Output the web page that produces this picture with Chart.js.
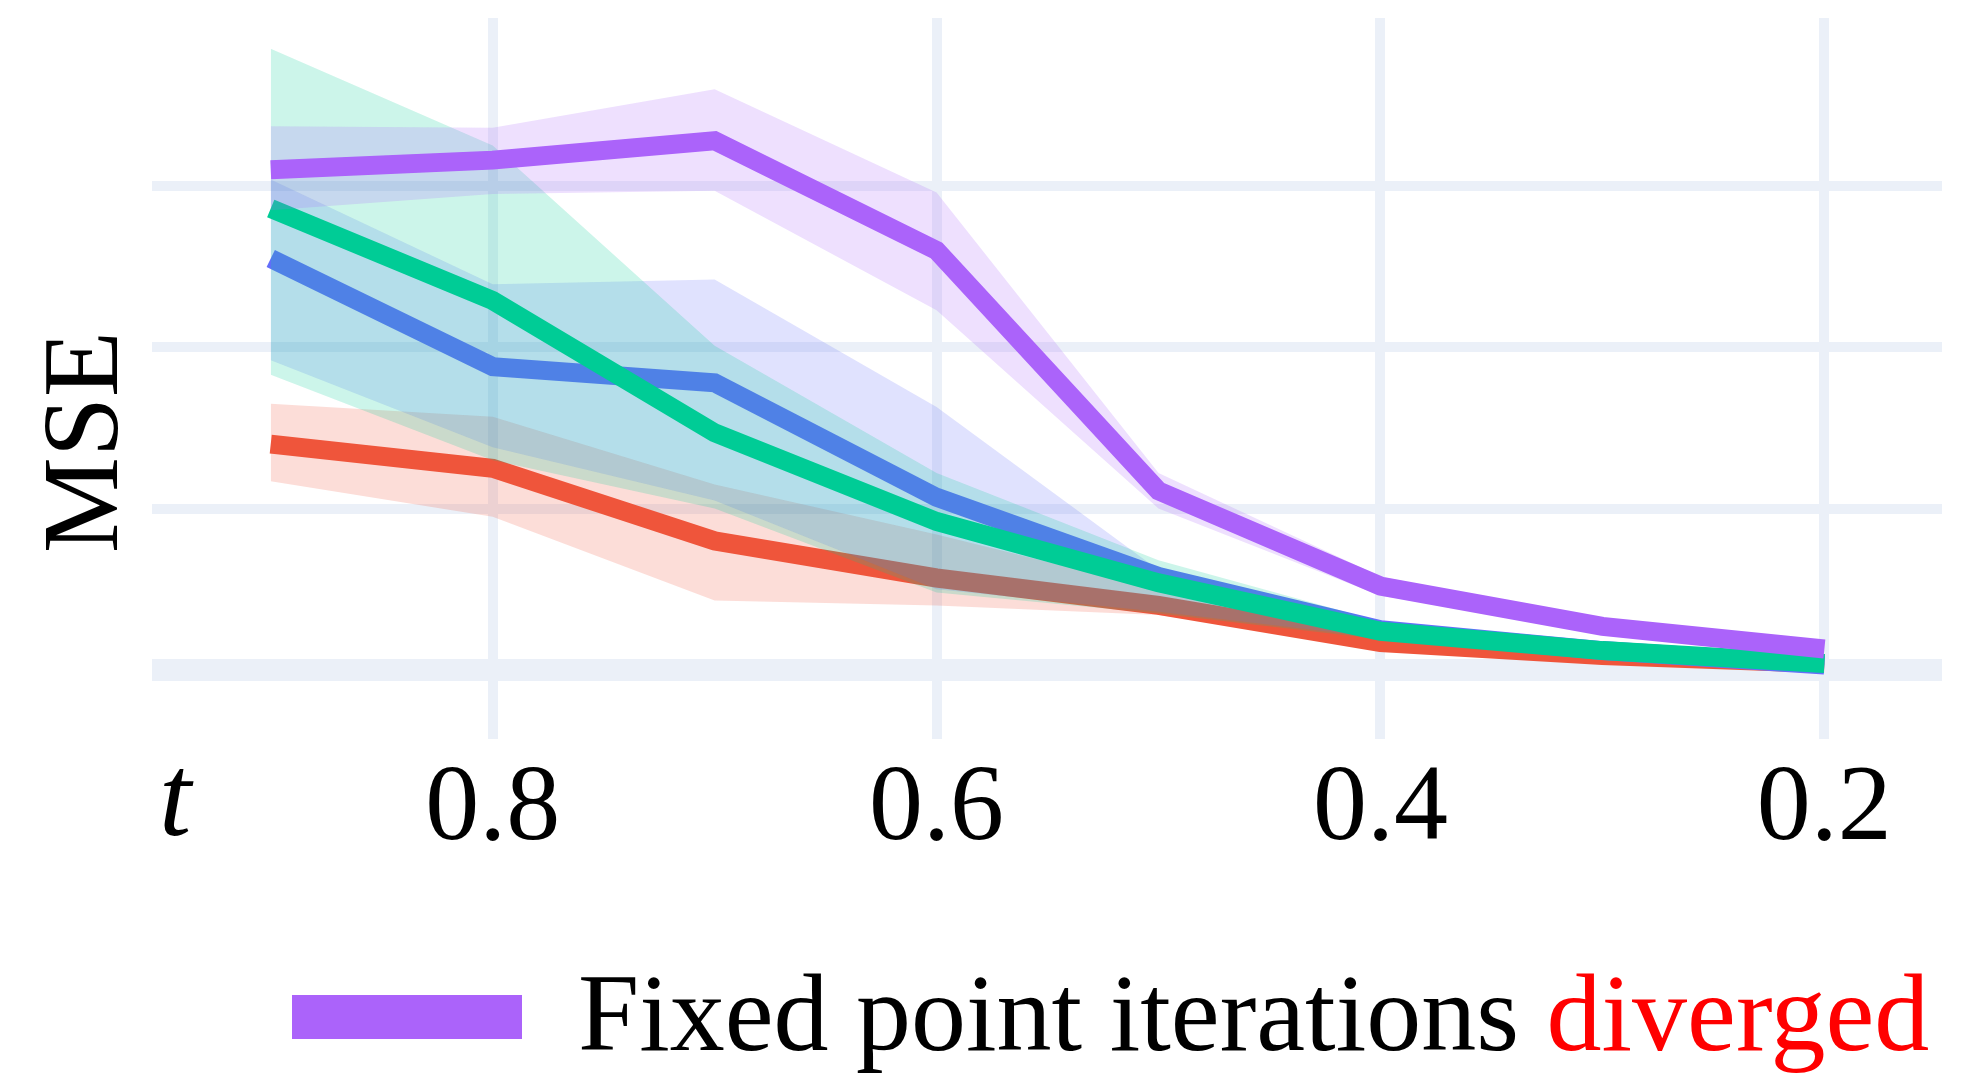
<!DOCTYPE html>
<html>
<head>
<meta charset="utf-8">
<title>MSE vs t</title>
<script src="https://cdn.jsdelivr.net/npm/chart.js@4.4.1/dist/chart.umd.min.js"></script>
<style>
  html, body { margin: 0; padding: 0; background: #fff; }
  #wrap { width: 1981px; height: 1073px; }
</style>
</head>
<body>
<div id="wrap"><canvas id="grafico" width="1981" height="1073"></canvas></div>
<script>
// eixo x (t, decrescente) e grades
const tValues = [0.9, 0.8, 0.7, 0.6, 0.5, 0.4, 0.3, 0.2];
const xTicks = [0.8, 0.6, 0.4, 0.2];
const yGrid = [0, 1, 2, 3];

// series (MSE, unidades da grade) - media e faixa
const purpleMean  = [3.10, 3.16, 3.28, 2.60, 1.11, 0.52, 0.27, 0.13];
const purpleUpper = [3.37, 3.36, 3.60, 2.96, 1.22, 0.58, 0.30, 0.14];
const purpleLower = [2.85, 2.95, 2.97, 2.23, 1.00, 0.46, 0.24, 0.11];

const blueMean  = [2.55, 1.88, 1.78, 1.07, 0.58, 0.25, 0.12, 0.03];
const blueUpper = [3.04, 2.39, 2.42, 1.63, 0.62, 0.27, 0.13, 0.04];
const blueLower = [1.92, 1.38, 1.05, 0.50, 0.36, 0.20, 0.10, 0.02];

const greenMean  = [2.86, 2.29, 1.47, 0.92, 0.54, 0.24, 0.12, 0.04];
const greenUpper = [3.85, 3.25, 2.01, 1.22, 0.68, 0.30, 0.14, 0.05];
const greenLower = [1.83, 1.30, 1.00, 0.48, 0.35, 0.19, 0.10, 0.03];

const redMean  = [1.40, 1.25, 0.80, 0.57, 0.40, 0.17, 0.09, 0.04];
const redUpper = [1.65, 1.57, 1.15, 0.84, 0.50, 0.20, 0.10, 0.05];
const redLower = [1.17, 0.95, 0.43, 0.40, 0.34, 0.15, 0.08, 0.03];

const legendLabel = "Fixed point iterations ";
const legendWord = "diverged";

const FONT = '"Liberation Serif", "Times New Roman", serif';
const GRID = "#EBF0F8";

function pts(arr) {
  return arr.map((v, i) => ({ x: tValues[i], y: v }));
}

// faixa (superior preenche ate a inferior) + linha media
function serie(label, cor, faixa, mean, upper, lower, ordem) {
  return [
    { label: label + " upper", data: pts(upper), borderColor: "transparent", borderWidth: 0,
      pointRadius: 0, backgroundColor: faixa, fill: "+1", order: ordem + 1 },
    { label: label + " lower", data: pts(lower), borderColor: "transparent", borderWidth: 0,
      pointRadius: 0, fill: false, order: ordem + 1 },
    { label: label, data: pts(mean), borderColor: cor, borderWidth: 19, pointRadius: 0,
      fill: false, tension: 0, order: ordem }
  ];
}

const datasets = [].concat(
  serie("diverged", "#AB63FA", "rgba(171,99,250,0.2)", purpleMean, purpleUpper, purpleLower, 0),
  serie("green", "#00CC96", "rgba(0,204,150,0.2)", greenMean, greenUpper, greenLower, 2),
  serie("blue", "#636EFA", "rgba(99,110,250,0.2)", blueMean, blueUpper, blueLower, 4),
  serie("red", "#EF553B", "rgba(239,85,59,0.2)", redMean, redUpper, redLower, 6)
);

// textos extras: titulo do eixo y, rotulo t e legenda
const textos = {
  id: "textos",
  afterDraw(chart) {
    const ctx = chart.ctx;
    const area = chart.chartArea;

    ctx.save();
    ctx.fillStyle = "#000";
    ctx.font = "108px " + FONT;
    ctx.textAlign = "center";
    ctx.textBaseline = "alphabetic";
    ctx.translate(area.left - 35, 442);
    ctx.rotate(-Math.PI / 2);
    ctx.fillText("MSE", 0, 0);
    ctx.restore();

    ctx.save();
    ctx.fillStyle = "#000";
    ctx.font = "italic 116px " + FONT;
    ctx.textAlign = "center";
    ctx.textBaseline = "alphabetic";
    ctx.fillText("t", area.left + 23, 835);
    ctx.restore();

    // legenda
    ctx.save();
    ctx.fillStyle = "#AB63FA";
    ctx.fillRect(292, 995, 230, 44);
    ctx.font = "110px " + FONT;
    ctx.textAlign = "left";
    ctx.textBaseline = "alphabetic";
    ctx.fillStyle = "#000";
    ctx.fillText(legendLabel, 578, 1050);
    const w = ctx.measureText(legendLabel).width;
    ctx.fillStyle = "#FF0000";
    ctx.fillText(legendWord, 578 + w, 1050);
    ctx.restore();
  }
};

new Chart(document.getElementById("grafico"), {
  type: "line",
  data: { datasets: datasets },
  plugins: [textos],
  options: {
    responsive: false,
    animation: false,
    devicePixelRatio: 1,
    layout: { padding: { top: 18, right: 39, left: 0, bottom: 0 } },
    plugins: {
      legend: { display: false },
      tooltip: { enabled: false },
      filler: { drawTime: "beforeDatasetDraw" }
    },
    scales: {
      x: {
        type: "linear",
        reverse: true,
        min: 0.147,
        max: 0.9535,
        afterBuildTicks: s => { s.ticks = xTicks.map(v => ({ value: v })); },
        afterFit: s => { s.height = 334; },
        border: { display: false },
        grid: { color: GRID, lineWidth: 10, drawTicks: false },
        ticks: {
          padding: 7,
          color: "#000",
          font: { family: FONT, size: 108 },
          callback: v => Number(v).toFixed(1)
        }
      },
      y: {
        type: "linear",
        min: -0.428,
        max: 4.041,
        afterBuildTicks: s => { s.ticks = yGrid.map(v => ({ value: v })); },
        afterFit: s => { s.width = 152; },
        border: { display: false },
        grid: {
          color: GRID,
          drawTicks: false,
          lineWidth: c => (c.tick && c.tick.value === 0 ? 22 : 10)
        },
        ticks: { display: false }
      }
    }
  }
});
</script>
</body>
</html>
